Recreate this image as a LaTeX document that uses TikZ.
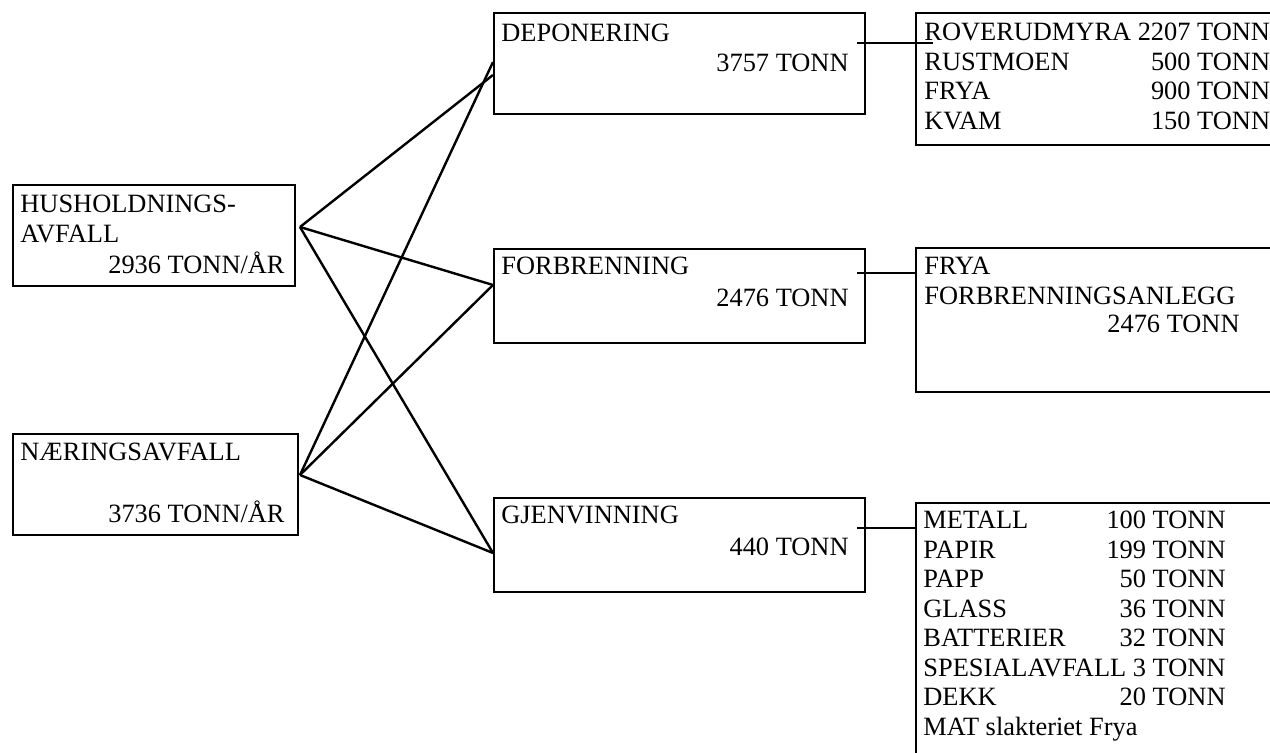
\documentclass[tikz,border=0pt]{standalone}
\usepackage{fontspec}
\setmainfont{Liberation Serif}
\tikzset{
	box/.style = {draw = black, line width = 1.1pt, inner sep = 0pt, anchor = north west},
	txt/.style = {inner sep = 0pt, font = \fontsize{13.2}{14.75}\selectfont},
	link/.style = {line width = 1.2pt, black}
}
\begin{document}
\begin{tikzpicture}[x = .5pt, y = -.5pt]
	\clip (0, 0) rectangle (1270, 753);
	
	% kilder
	\node [box, minimum width = 141pt, minimum height = 50.5pt] (hus) at (12, 184) {};
	\node [box, minimum width = 142.5pt, minimum height = 50.5pt] (naer) at (12, 433) {};
	\node [txt, anchor = base west] (hus1) at (20, 213) {HUSHOLDNINGS-};
	\node [txt, anchor = base west] (hus2) at (20, 243) {AVFALL};
	\node [txt, anchor = base east] (hus3) at (285, 274) {2936 TONN/ÅR};
	\node [txt, anchor = base west] (naer1) at (20, 461) {NÆRINGSAVFALL};
	\node [txt, anchor = base east] (naer2) at (285, 523) {3736 TONN/ÅR};
	
	% behandling
	\node [box, minimum width = 185.5pt, minimum height = 50.5pt] (dep) at (493, 12) {};
	\node [box, minimum width = 185.5pt, minimum height = 47pt] (forb) at (493, 248) {};
	\node [box, minimum width = 185.5pt, minimum height = 47pt] (gjen) at (493, 497) {};
	\node [txt, anchor = base west] (dep1) at (501, 42) {DEPONERING};
	\node [txt, anchor = base east] (dep2) at (849, 72) {3757 TONN};
	\node [txt, anchor = base west] (forb1) at (501, 275) {FORBRENNING};
	\node [txt, anchor = base east] (forb2) at (849, 307) {2476 TONN};
	\node [txt, anchor = base west] (gjen1) at (501, 524) {GJENVINNING};
	\node [txt, anchor = base east] (gjen2) at (849, 556) {440 TONN};
	
	% mottak
	\node [box, minimum width = 200pt, minimum height = 66pt] (depliste) at (915, 12) {};
	\node [box, minimum width = 200pt, minimum height = 72pt] (forbliste) at (915, 247) {};
	\node [box, minimum width = 200pt, minimum height = 150pt] (gjenliste) at (915, 502) {};
	\node [txt, anchor = base west] (dep3) at (924, 41) {%
		\begin{tabular}[t]{@{}l@{\ }r@{}}
		ROVERUDMYRA & 2207 TONN\\
		RUSTMOEN & 500 TONN\\
		FRYA & 900 TONN\\
		KVAM & 150 TONN
		\end{tabular}};
	\node [txt, anchor = base west] (forb3) at (924, 275) {FRYA};
	\node [txt, anchor = base west] (forb4) at (924, 305) {FORBRENNINGSANLEGG};
	\node [txt, anchor = base east] (forb5) at (1240, 333) {2476 TONN};
	\node [txt, anchor = base west] (gjen3) at (923, 529) {%
		\begin{tabular}[t]{@{}l@{\ }r@{}}
		METALL & 100 TONN\\
		PAPIR & 199 TONN\\
		PAPP & 50 TONN\\
		GLASS & 36 TONN\\
		BATTERIER & 32 TONN\\
		\multicolumn{2}{@{}l@{}}{SPESIALAVFALL 3 TONN}\\
		DEKK & 20 TONN\\
		\multicolumn{2}{@{}l@{}}{MAT slakteriet Frya}
		\end{tabular}};
	
	% linjer
	\coordinate (hus out) at (300, 227);
	\coordinate (naer out) at (300, 475);
	\coordinate (dep in a) at (493, 75);
	\coordinate (dep in b) at (493, 62);
	\coordinate (forb in) at (493, 285);
	\coordinate (gjen in) at (493, 553);
	\draw [link] (hus out) -- (dep in a);
	\draw [link] (hus out) -- (forb in);
	\draw [link] (hus out) -- (gjen in);
	\draw [link] (naer out) -- (dep in b);
	\draw [link] (naer out) -- (forb in);
	\draw [link] (naer out) -- (gjen in);
	
	\coordinate (dep out) at (857, 43);
	\coordinate (forb out) at (857, 273);
	\coordinate (gjen out) at (857, 528);
	\draw [link] (dep out) -- ([xshift = 9pt] dep out -| depliste.west);
	\draw [link] (forb out) -- (forb out -| forbliste.west);
	\draw [link] (gjen out) -- (gjen out -| gjenliste.west);
\end{tikzpicture}
\end{document}
